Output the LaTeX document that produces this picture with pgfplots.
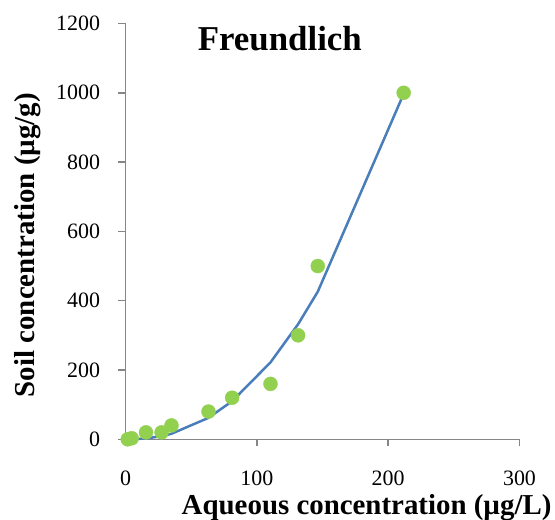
\documentclass[border=0pt]{standalone}
\usepackage{pgfplots}
\pgfplotsset{compat=1.18}
\usepackage{fontspec}
\setmainfont{Liberation Serif}
\definecolor{fitblue}{HTML}{4A7EBB}
\definecolor{ptgreen}{HTML}{92D050}
\definecolor{axgray}{HTML}{868686}
\begin{document}
\begin{tikzpicture}
\path[use as bounding box] (0,0) rectangle (555bp,520bp);
\begin{axis}[
  at={(125.5bp,80.7bp)}, anchor=south west,
  scale only axis, width=394bp, height=415.8bp,
  xmin=0, xmax=300, ymin=0, ymax=1200,
  axis x line=bottom, axis y line=left,
  axis line style={-, axgray, line width=1.5bp},
  xtick={0,100,200,300}, ytick={0,200,...,1200},
  tick align=outside, major tick length=7bp,
  tick style={axgray, line width=1.5bp},
  /pgf/number format/assume math mode=true,
  /pgf/number format/1000 sep={},
  ticklabel style={font=\fontsize{22}{26}\selectfont, black},
  yticklabel style={xshift=-15bp},
  xticklabel style={yshift=-21bp},
  clip=false,
  xlabel={\textbf{Aqueous concentration (µg/L)}},
  ylabel={\textbf{Soil concentration (µg/g)}},
  label style={font=\fontsize{29}{34}\selectfont},
  xlabel style={at={(axis description cs:0.612,-0.180)}, anchor=base},
  ylabel style={at={(axis description cs:-0.248,0.467)}, anchor=center},
]
% Freundlich fit
\addplot[fitblue, line width=2.5bp, no marks] coordinates {
  (1.7,0.01) (4.7,0.1) (15.6,2.5) (27.5,9) (35,16) (63.2,62)
  (81.2,110) (110.4,222) (131.4,332) (146.4,426) (211.8,997)
};
% measured sorption data
\addplot[ptgreen, only marks, mark=*, mark size=7bp, mark options={draw=none, fill=ptgreen}] coordinates {
  (1.7,0) (4.7,3) (15.6,20) (27.5,20) (35,40) (63.2,80)
  (81.2,120) (110.4,160) (131.4,300) (146.4,500) (211.8,1000)
};
\node[anchor=base, font=\fontsize{35}{40}\selectfont\bfseries] at (axis cs:117.5,1123.5) {Freundlich};
\end{axis}
\end{tikzpicture}
\end{document}
